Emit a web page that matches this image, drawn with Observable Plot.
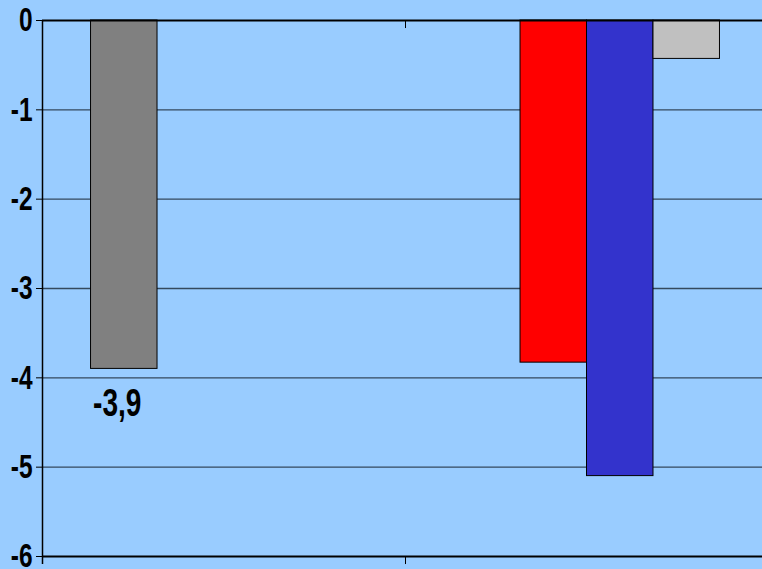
<!DOCTYPE html>
<html>
<head>
<meta charset="utf-8">
<script src="https://cdn.jsdelivr.net/npm/d3@7"></script>
<script src="https://cdn.jsdelivr.net/npm/@observablehq/plot@0.6"></script>
<style>
  html, body { margin: 0; padding: 0; background: #99CCFF; }
  #chart svg { display: block; }
</style>
</head>
<body>
<div id="chart"></div>
<script>
// ---- data ----
const groups = ["Group 1", "Group 2"];
const series = ["Series 1", "Series 2", "Series 3", "Series 4"];
const seriesColors = ["#808080", "#FF0000", "#3333CC", "#C0C0C0"];
const group1Values = [-3.9, null, null, null];
const group2Values = [null, -3.83, -5.1, -0.43];
const yTicks = [0, -1, -2, -3, -4, -5, -6];
const labelledValues = [{group: "Group 1", series: "Series 1", text: "-3,9", value: -3.9}];

// ---- build table ----
const rows = [];
[group1Values, group2Values].forEach((vals, gi) => {
  vals.forEach((v, si) => {
    if (v != null) rows.push({group: groups[gi], series: series[si], value: v});
  });
});

const inner = d3.scaleBand().domain(series).range([0, 1]).paddingInner(0).paddingOuter(0.73);
const gIndex = g => groups.indexOf(g);
const xStart = d => gIndex(d.group) + inner(d.series);
const xEnd = d => xStart(d) + inner.bandwidth();
const xMid = d => xStart(d) + inner.bandwidth() / 2;

const font = "'Liberation Sans', Arial, sans-serif";

const chart = Plot.plot({
  width: 762,
  height: 569,
  marginTop: 20,
  marginBottom: 13,
  marginLeft: 42,
  marginRight: 0,
  style: {background: "#99CCFF", fontFamily: font, overflow: "visible"},
  x: {domain: [0, groups.length], range: [42, 768], axis: null},
  y: {domain: [-6, 0], axis: null},
  color: {domain: series, range: seriesColors},
  marks: [
    Plot.ruleY([-1, -2, -3, -4, -5], {stroke: "#34495E", strokeWidth: 1.4}),
    Plot.rectY(rows, {x1: xStart, x2: xEnd, y1: 0, y2: "value", fill: "series", stroke: "#000", strokeWidth: 1}),
    Plot.ruleY([0, -6], {stroke: "#000", strokeWidth: 2}),
    Plot.ruleX([0], {y1: 0, y2: -6.09, stroke: "#000", strokeWidth: 1.5}),
    Plot.ruleX([1], {y1: 0, y2: -0.09, stroke: "#000", strokeWidth: 1}),
    Plot.ruleX([1], {y1: -6, y2: -6.09, stroke: "#000", strokeWidth: 1}),
    Plot.axisY({ticks: yTicks, tickSize: 6, tickPadding: 4, tickFormat: d => String(d), label: null,
      fontSize: 34, fontWeight: "bold", fill: "#000", stroke: "#000", strokeWidth: 1, anchor: "left"}),
    Plot.text(labelledValues, {x: xMid, y: "value", text: "text", dx: -7, dy: 35, fontSize: 39, fontWeight: "bold", fill: "#000", textAnchor: "middle", lineAnchor: "middle"})
  ]
});
document.getElementById("chart").appendChild(chart);

// condense the bold text (reference uses a narrow bold face), scaling about each text's anchor
chart.querySelectorAll("text").forEach(t => {
  const tr = t.getAttribute("transform");
  if (tr) {
    t.setAttribute("transform", tr + " scale(0.72,1)");
  } else {
    const x = parseFloat(t.getAttribute("x") || 0);
    t.setAttribute("transform", `translate(${x},0) scale(0.72,1) translate(${-x},0)`);
  }
});
</script>
</body>
</html>
